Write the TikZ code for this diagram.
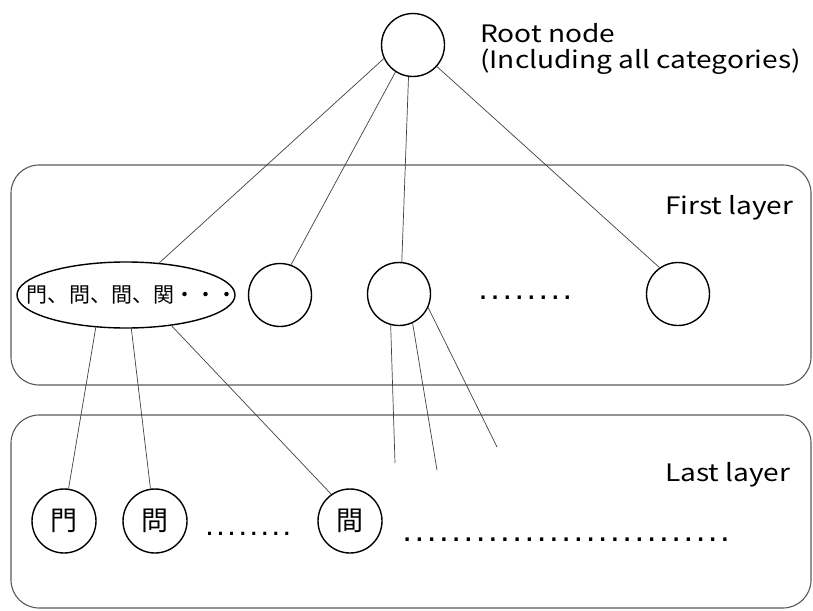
\documentclass[tikz,border=0pt]{standalone}
\usepackage{fontspec}
\setmainfont{Noto Sans CJK JP}
\newfontfamily\labelfont[FakeStretch=1.17]{Noto Sans CJK JP}
\newfontfamily\dotfont{DejaVu Sans Mono Bold}
\usetikzlibrary{shapes.geometric}
\tikzset{
  node/.style={circle, draw, line width=1.4pt, minimum size=63pt, inner sep=0pt},
  leaf/.style={circle, draw, line width=1.4pt, minimum size=64pt, inner sep=0pt, font=\fontsize{27}{27}\selectfont},
  layer/.style={draw=black!65, line width=1.1pt, rounded corners=28pt},
  link/.style={draw=black!75, line width=0.7pt},
  label/.style={font=\labelfont\fontsize{24}{26}\selectfont, align=left, inner sep=0pt},
  dots/.style={inner sep=0pt, anchor=base west}
}
\begin{document}
\begin{tikzpicture}[x=1pt, y=-1pt]
\useasboundingbox (0,0) rectangle (813,610);
% layer frames
\draw[layer] (11,165) rectangle (811,385);
\draw[layer] (11,415) rectangle (811,608);
\node[label, anchor=base west] (firstlbl) at (665,214) {First layer};
\node[label, anchor=base west] (lastlbl) at (665,481) {Last layer};

% root
\node[node] (root) at (413,45) {};
\node[label, anchor=base west] (rootlbl1) at (480,42) {Root node};
\node[label, anchor=base west] (rootlbl2) at (480,68) {(Including all categories)};

% first layer
\node[ellipse, draw, line width=1.4pt, minimum width=218pt, minimum height=66pt, inner sep=0pt] (grp) at (126,295) {};
\node[font=\fontsize{21}{21}\selectfont, inner sep=0pt] (grptxt) at (132,295) {門、問、間、関・・・};
\node[node] (c2) at (280,295) {};
\node[node] (c3) at (399,294) {};
\node[dots, font=\dotfont\fontsize{20}{20}\selectfont] (d1) at (477,299) {........};
\node[node] (c4) at (678,294) {};

% last layer
\node[leaf] (k1) at (64,521) {門};
\node[leaf] (k2) at (155,521) {問};
\node[dots, font=\dotfont\fontsize{18.3}{18}\selectfont] (d2) at (204,535) {........};
\node[leaf] (k3) at (350,521) {間};
\node[dots, font=\dotfont\fontsize{20.3}{20}\selectfont] (d3) at (401,541) {...........................};

% open ends below the middle node
\coordinate (e1) at (395,463);
\coordinate (e2) at (437,470);
\coordinate (e3) at (497,447);

% connectors from the root
\draw[link] (root.205) -- (grp.44);
\draw[link] (root.237) -- (c2.70);
\draw[link] (root.262) -- (c3.85);
\draw[link] (root.-42) -- (c4.125);

% connectors from the grouped node
\draw[link] (grp.227) -- (k1.82);
\draw[link] (grp.279) -- (k2.98);
\draw[link] (grp.326) -- (k3.125);

% connectors leaving the middle node
\draw[link] (c3.255) -- (e1);
\draw[link] (c3.295) -- (e2);
\draw[link] (c3.-25) -- (e3);
\end{tikzpicture}
\end{document}
